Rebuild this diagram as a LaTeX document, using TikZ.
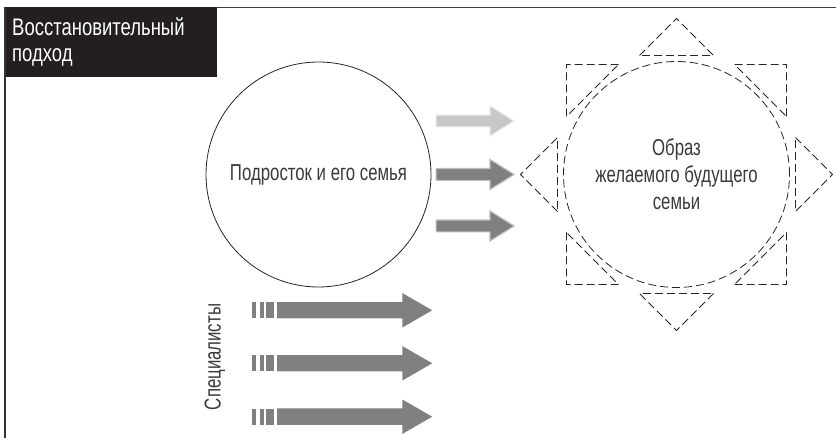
\documentclass[tikz,border=0pt]{standalone}
\usepackage{fontspec}
\setmainfont{Liberation Sans}[FakeStretch=0.73]
\newfontfamily\titlefont{Liberation Sans}[FakeStretch=0.77]
\usetikzlibrary{shapes.arrows}
\definecolor{boxblack}{HTML}{231F20}
\definecolor{txtgray}{HTML}{3A3A3A}
\definecolor{arrgray}{HTML}{808080}
\definecolor{arrlight}{HTML}{C8C8C8}

\begin{document}
\begin{tikzpicture}[x=1pt, y=-1pt,
  lbl/.style={font=\fontsize{23}{27}\selectfont, text=txtgray, align=center},
  dsh/.style={dash pattern=on 8pt off 4pt, line width=0.8pt, draw=black!85}]
\tikzstyle{smallarr}=[single arrow, anchor=tail, inner xsep=0pt, inner ysep=5.3pt, minimum height=78pt,
  single arrow head extend=9.2pt, single arrow tip angle=64, line width=1.2pt]
\tikzstyle{bigarr}=[single arrow, anchor=tail, fill=arrgray, inner xsep=0pt, inner ysep=8pt, minimum height=155pt,
  single arrow head extend=9pt, single arrow tip angle=60]
\useasboundingbox (0,0) rectangle (836,438);
% frame and title
\fill[boxblack] (5,7) rectangle (217,77);
\draw[line width=1.5pt, black!80] (5,7) -- (5,438);
\draw[line width=1.4pt, black!75] (217,7.5) -- (836,7.5);
\node[font=\titlefont\fontsize{24}{26}\selectfont, text=white, align=left, anchor=north west, inner sep=0pt]
  (title) at (12,17) {Восстановительный\\подход};
% two circles
\node[circle, draw=black!85, line width=0.8pt, minimum size=225pt, lbl] (fam) at (318.5,174.5) {Подросток и его семья};
\node[circle, dsh, minimum size=226pt, lbl] (img) at (676.5,174.5) {Образ\\желаемого будущего\\семьи};
% rays round the image
\foreach \a in {0,90,180,270}{
  \draw[dsh, shift={(img.center)}, rotate=\a] (-37,-119) -- (0,-156) -- (37,-119) -- cycle;
  \draw[dsh, shift={(img.center)}, rotate=\a] (-58,-110) -- (-110,-110) -- (-110,-58) -- cycle;
}
% small arrows
\foreach \n/\y/\f/\d in {1/121/arrlight/black!8, 2/174.5/arrgray/black!25, 3/226/arrgray/black!25}
  {\node[smallarr, fill=\f, draw=\d] (s\n) at (435.5,\y) {};}
% specialists
\foreach \n/\y in {1/310.3, 2/363.3, 3/416.7}{
  \node[bigarr] (b\n) at (277,\y) {};
  \foreach \l/\r in {252/256, 259.5/264, 266/274}{\fill[arrgray] (\l,\y-8) rectangle (\r,\y+8);}
}
\node[lbl, rotate=90] (spec) at (215,357) {Специалисты};
\end{tikzpicture}
\end{document}
